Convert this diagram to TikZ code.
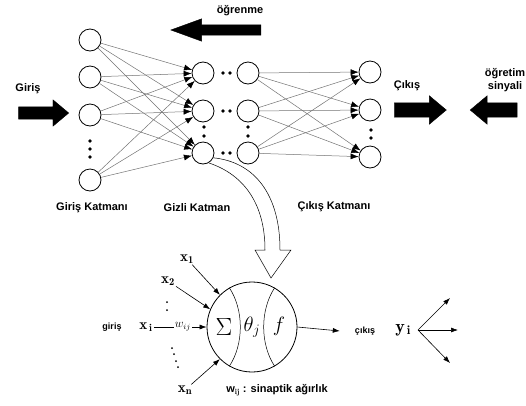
\documentclass[tikz,border=0pt]{standalone}
\usepackage{fontspec}
\setsansfont{Liberation Sans}
\usetikzlibrary{arrows,arrows.meta,shapes,positioning}
\tikzset{
  unit/.style     = {draw, circle, line width=0.8pt, minimum size=22pt, inner sep=0pt},
  lbl/.style      = {font=\sffamily\bfseries\fontsize{11}{13}\selectfont, inner sep=1pt},
  small lbl/.style = {font=\sffamily\bfseries\fontsize{9}{11}\selectfont, inner sep=1pt},
  mathlbl/.style  = {font=\fontsize{15}{17}\selectfont, inner sep=1pt},
  link/.style     = {-{Latex[length=8pt,width=6pt,black]}, draw=black!55, line width=0.5pt},
  bigarrow/.style = {single arrow, fill=black, draw=black, inner xsep=0pt,
                     single arrow tip angle=80},
  dot/.style      = {circle, fill=black, inner sep=0pt, minimum size=3.6pt},
  smalldot/.style = {circle, fill=black, inner sep=0pt, minimum size=2pt},
  feed/.style     = {-{Latex[length=7pt,width=5pt]}, line width=0.6pt}
}

\begin{document}
\begin{tikzpicture}[x=1pt,y=-1pt,>=latex]
  \useasboundingbox (0,0) rectangle (526,405);

  % input layer
  \foreach \n/\y in {1/40,2/77,3/115,4/180}
    \node[unit] (in\n) at (90,\y) {};
  \foreach \y in {141,149,157}
    \node[dot] at (90,\y) {};

  % hidden layer, two columns
  \foreach \n/\y in {1/73,2/111,3/153} {
    \node[unit] (hA\n) at (203,\y) {};
    \node[unit] (hB\n) at (248,\y) {};
    \node[dot] at (223,\y) {};
    \node[dot] at (230,\y) {};
  }
  \foreach \y in {127,136} {
    \node[dot] at (204,\y) {};
    \node[dot] at (248,\y) {};
  }

  % output layer
  \foreach \n/\y in {1/72,2/110,3/157}
    \node[unit] (out\n) at (370,\y) {};
  \foreach \y in {130,138}
    \node[dot] at (371,\y) {};

  % links
  \foreach \i in {1,...,4}
    \foreach \j in {1,2,3}
      \draw[link] (in\i) -- (hA\j);
  \foreach \i in {1,2,3}
    \foreach \j in {1,2,3}
      \draw[link] (hB\i) -- (out\j);

  % block arrows
  \node[bigarrow, minimum height=50pt, inner ysep=6pt,
        single arrow head extend=7pt] (girisArr) at (40,113) {};
  \node[lbl] (giris) at (28,89) {Giriş};
  \node[bigarrow, minimum height=90pt, inner ysep=5pt,
        single arrow head extend=6pt, single arrow tip angle=40,
        shape border rotate=180] (ogrArr) at (223,30) {};
  \node[lbl] (ogrenme) at (240,11) {öğrenme};
  \node[bigarrow, minimum height=52pt, inner ysep=7pt,
        single arrow head extend=7pt] (cikisArr) at (416,110) {};
  \node[lbl] (cikis) at (407,86) {Çıkış};
  \node[bigarrow, minimum height=47pt, inner ysep=7pt,
        single arrow head extend=7pt, shape border rotate=180] (ogrtArr) at (498,110) {};
  \node[lbl, align=center] (ogretim) at (505,80) {öğretim\\sinyali};

  % layer names
  \node[lbl] (lIn)  at (92,208)  {Giriş Katmanı};
  \node[lbl] (lHid) at (197,208) {Gizli Katman};
  \node[lbl] (lOut) at (334,207) {Çıkış Katmanı};

  % single neuron
  \node[draw, circle, line width=0.8pt, minimum size=90pt, inner sep=0pt] (neuron) at (252,327) {};
  \draw[line width=0.5pt] (neuron.120) .. controls (244,310) and (244,344) .. (neuron.240);
  \draw[line width=0.5pt] (neuron.60) .. controls (260,310) and (260,344) .. (neuron.300);
  \node[font=\fontsize{24}{24}\selectfont] (sum)   at (224,327) {$\Sigma$};
  \node[font=\fontsize{22}{22}\selectfont] (theta) at (252,327) {$\theta_j$};
  \node[font=\fontsize{22}{22}\selectfont] (func)  at (279,326) {$f$};

  % zoom arrow
  \coordinate (tip) at (271,278);
  \draw[line width=0.5pt] (hA3.-60) .. controls (245,175) and (265,205) .. (265,250)
    -- (255,250) -- (tip) -- (291,250) -- (280,250)
    .. controls (280,195) and (255,162) .. (hA3.-25);

  % neuron inputs
  \node[mathlbl] (x1) at (187,259) {$\mathbf{x}_{\mathbf{1}}$};
  \node[mathlbl] (x2) at (168,281) {$\mathbf{x}_{\mathbf{2}}$};
  \node[mathlbl] (xn) at (185,390) {$\mathbf{x}_{\mathbf{n}}$};
  \node[small lbl] (girisB) at (112,327) {giriş};
  \node[mathlbl] (xi) at (146,327) {$\mathbf{x}_{\,\mathbf{i}}$};
  \draw[feed] (x1) -- (neuron.135);
  \draw[feed] (x2) -- (neuron.157);
  \draw[feed] (xn) -- (neuron.225);
  \draw[feed] (xi) -- node[fill=white, inner sep=1pt, pos=0.55, font=\large] (wij) {$w_{ij}$} (neuron.west);
  \foreach \y in {302,310}
    \node[smalldot] at (167,\y) {};
  \foreach \x/\y in {172/348,174/354,176/361,178/367}
    \node[smalldot] at (\x,\y) {};
  \node[lbl] (sinaptik) at (277,390) {w$_{\mathbf{ij}}$ : sinaptik ağırlık};

  % neuron output
  \node[small lbl] (cikisB) at (365,331) {çıkış};
  \node[mathlbl, font=\fontsize{18}{20}\selectfont] (yi) at (403,330) {$\mathbf{y}_{\,\mathbf{i}}$};
  \coordinate (split) at (418,330);
  \coordinate (up)   at (450,298);
  \coordinate (mid)  at (458,330);
  \coordinate (down) at (450,363);
  \draw[feed] (neuron.east) -- ([xshift=-14pt]cikisB.west);
  \foreach \t in {up,mid,down}
    \draw[feed] (split) -- (\t);
\end{tikzpicture}
\end{document}
